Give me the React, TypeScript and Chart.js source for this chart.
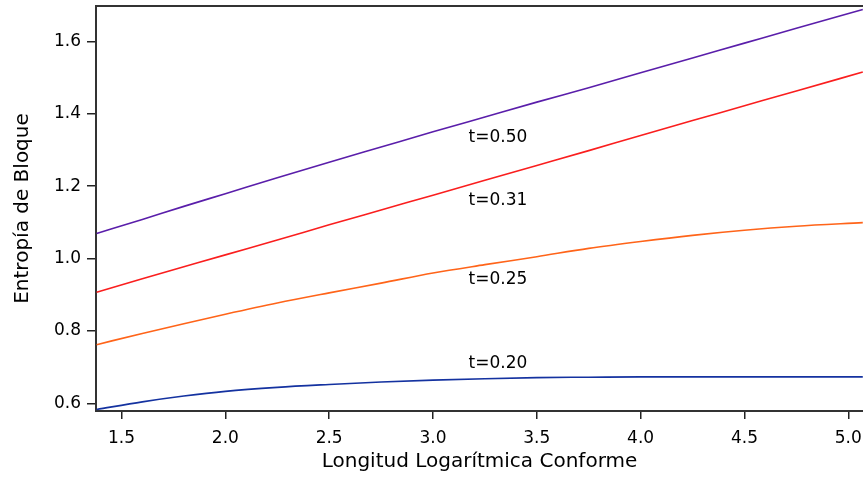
import React, { useEffect, useRef } from "react";
import { Chart, registerables } from "chart.js";

Chart.register(...registerables);

// Longitud logarítmica conforme (eje x)
const X_VALUES = [1.38, 1.6, 1.8, 2.0, 2.25, 2.5, 2.75, 3.0, 3.25, 3.5, 3.75, 4.0, 4.25, 4.5, 4.75, 5.07];

// Entropía de bloque para cada temperatura
const S_T050 = [1.069, 1.108, 1.144, 1.179, 1.223, 1.266, 1.308, 1.35, 1.391, 1.432, 1.472, 1.513, 1.554, 1.595, 1.636, 1.688];
const S_T031 = [0.907, 0.944, 0.977, 1.01, 1.051, 1.093, 1.134, 1.175, 1.216, 1.257, 1.298, 1.34, 1.381, 1.422, 1.463, 1.515];
const S_T025 = [0.762, 0.793, 0.82, 0.846, 0.877, 0.905, 0.932, 0.96, 0.983, 1.005, 1.028, 1.047, 1.064, 1.078, 1.089, 1.099];
const S_T020 = [0.583, 0.604, 0.62, 0.633, 0.644, 0.652, 0.659, 0.664, 0.668, 0.671, 0.672, 0.673, 0.673, 0.673, 0.673, 0.673];

const SERIES_NAMES = ["t=0.50", "t=0.31", "t=0.25", "t=0.20"];
const SERIES_COLORS = ["#5a1eaa", "#fa1e1e", "#ff6419", "#1432a0"];

// Etiquetas de curva: posición en coordenadas de datos
const LABEL_X = [3.313, 3.313, 3.313, 3.313];
const LABEL_Y = [1.335, 1.159, 0.943, 0.711];

const X_TICKS = [1.5, 2.0, 2.5, 3.0, 3.5, 4.0, 4.5, 5.0];
const Y_TICKS = [0.6, 0.8, 1.0, 1.2, 1.4, 1.6];

const X_MIN = 1.377;
const X_MAX = 5.071;
const Y_MIN = 0.5787;
const Y_MAX = 1.6976;

const FONT = "'DejaVu Sans', Verdana, sans-serif";

const frameAndLabels = {
  id: "frameAndLabels",
  afterDatasetsDraw(chart: any) {
    const { ctx, chartArea, scales } = chart;
    ctx.save();
    ctx.font = `17px ${FONT}`;
    ctx.fillStyle = "#000";
    ctx.textAlign = "center";
    ctx.textBaseline = "middle";
    SERIES_NAMES.forEach((name, i) => {
      ctx.fillText(name, scales.x.getPixelForValue(LABEL_X[i]), scales.y.getPixelForValue(LABEL_Y[i]));
    });
    ctx.strokeStyle = "#333";
    ctx.lineWidth = 2;
    ctx.beginPath();
    ctx.moveTo(chartArea.left - 1, chartArea.top);
    ctx.lineTo(chartArea.right, chartArea.top);
    ctx.stroke();
    ctx.restore();
  },
};

export default function App() {
  const canvasRef = useRef<HTMLCanvasElement | null>(null);

  useEffect(() => {
    if (!canvasRef.current) return;
    const series = [S_T050, S_T031, S_T025, S_T020];
    const chart = new Chart(canvasRef.current, {
      type: "line",
      data: {
        datasets: series.map((vals, i) => ({
          label: SERIES_NAMES[i],
          data: X_VALUES.map((x, j) => ({ x, y: vals[j] })),
          borderColor: SERIES_COLORS[i],
          borderWidth: 1.6,
          pointRadius: 0,
          fill: false,
          cubicInterpolationMode: "monotone" as const,
        })),
      },
      options: {
        responsive: false,
        animation: false,
        layout: { padding: { top: 6, right: 0, left: 0, bottom: 0 } },
        plugins: { legend: { display: false }, tooltip: { enabled: false } },
        scales: {
          x: {
            type: "linear",
            min: X_MIN,
            max: X_MAX,
            afterBuildTicks: (s: any) => {
              s.ticks = X_TICKS.map((value) => ({ value }));
            },
            afterFit: (s: any) => {
              s.height = 68;
              s.paddingLeft = 0;
              s.paddingRight = 0;
            },
            ticks: {
              autoSkip: false,
              maxRotation: 0,
              color: "#000",
              padding: 9,
              font: { family: FONT, size: 17 },
              callback: (v: any) => Number(v).toFixed(1),
            },
            grid: { drawOnChartArea: false, drawTicks: true, tickLength: 8, color: "#222", lineWidth: 1.5 },
            border: { display: true, color: "#333", width: 2 },
            title: {
              display: true,
              text: "Longitud Logarítmica Conforme",
              color: "#000",
              font: { family: FONT, size: 20 },
              padding: { top: 0, bottom: 5 },
            },
          },
          y: {
            type: "linear",
            min: Y_MIN,
            max: Y_MAX,
            afterBuildTicks: (s: any) => {
              s.ticks = Y_TICKS.map((value) => ({ value }));
            },
            afterFit: (s: any) => {
              s.width = 96;
              s.paddingTop = 0;
              s.paddingBottom = 0;
            },
            ticks: {
              color: "#000",
              padding: 6,
              font: { family: FONT, size: 17 },
              callback: (v: any) => Number(v).toFixed(1),
            },
            grid: { drawOnChartArea: false, drawTicks: true, tickLength: 9, color: "#222", lineWidth: 1.5 },
            border: { display: true, color: "#333", width: 2 },
            title: {
              display: true,
              text: "Entropía de Bloque",
              color: "#000",
              font: { family: FONT, size: 20 },
              padding: { top: 11, bottom: 0 },
            },
          },
        },
      },
      plugins: [frameAndLabels],
    });
    return () => chart.destroy();
  }, []);

  return (
    <div style={{ position: "fixed", left: 0, top: 0, width: 863, height: 479, background: "#fff" }}>
      <canvas ref={canvasRef} width={863} height={479} />
    </div>
  );
}
